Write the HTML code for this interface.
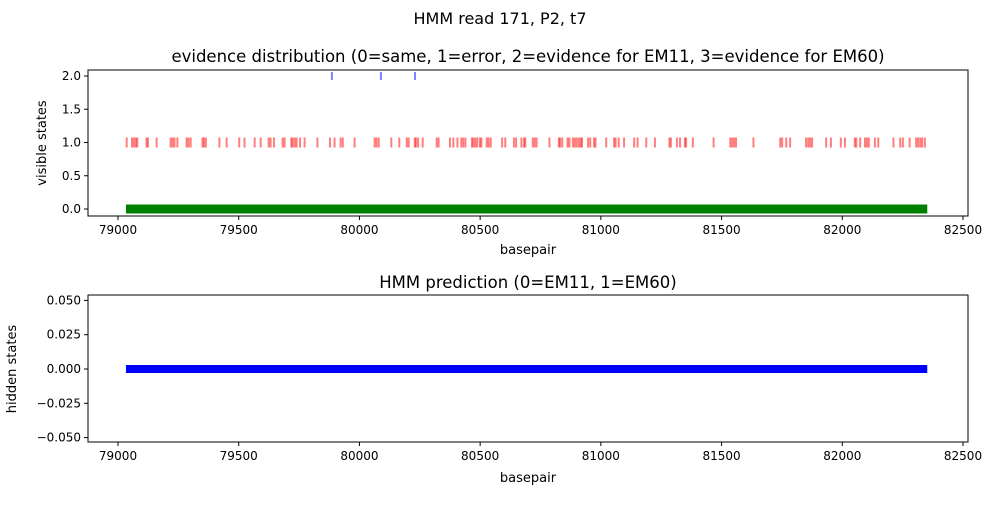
<!DOCTYPE html>
<html><head><meta charset="utf-8"><style>
body{margin:0;background:#fff;}
svg text{font-family:"DejaVu Sans","Liberation Sans",sans-serif;fill:#000;}
</style></head><body>
<svg id="c" width="1000" height="500" xmlns="http://www.w3.org/2000/svg">
<text x="500" y="24" font-size="16" text-anchor="middle">HMM read 171, P2, t7</text>
<text x="528" y="62" font-size="16.5" text-anchor="middle">evidence distribution (0=same, 1=error, 2=evidence for EM11, 3=evidence for EM60)</text>
<text x="528" y="288" font-size="16.5" text-anchor="middle">HMM prediction (0=EM11, 1=EM60)</text>
<text x="528" y="254" font-size="13" text-anchor="middle">basepair</text>
<text x="528" y="482" font-size="13" text-anchor="middle">basepair</text>
<text transform="translate(46,143) rotate(-90)" font-size="13" text-anchor="middle">visible states</text>
<text transform="translate(16,369) rotate(-90)" font-size="13" text-anchor="middle">hidden states</text>
<g id="g"></g>
</svg>
<script>
const xTicks=[79000,79500,80000,80500,81000,81500,82000,82500];
const topYTicks=[0.0,0.5,1.0,1.5,2.0];
const botYTicks=[-0.050,-0.025,0.000,0.025,0.050];
const errorPos=[79036,79058,79066,79074,79080,79118,79124,79160,79218,79226,79234,79246,79284,79292,79301,79350,79356,79364,79420,79450,79502,79524,79566,79591,79624,79632,79646,79682,79690,79718,79723,79732,79740,79754,79773,79826,79878,79897,79922,79931,79980,80063,80071,80080,80132,80165,80196,80204,80229,80234,80243,80262,80320,80328,80375,80389,80406,80422,80430,80439,80466,80472,80480,80488,80499,80505,80527,80535,80544,80591,80604,80640,80649,80671,80682,80687,80718,80726,80734,80787,80826,80831,80840,80862,80870,80884,80892,80900,80909,80917,80922,80947,80956,80972,80978,81022,81055,81061,81074,81096,81138,81152,81188,81224,81284,81290,81315,81328,81348,81353,81381,81467,81536,81544,81552,81560,81632,81743,81751,81768,81784,81850,81859,81867,81875,81933,81953,81994,82011,82052,82058,82074,82094,82102,82110,82135,82149,82212,82240,82251,82279,82306,82314,82323,82331,82342];
const em11Pos=[79886,80089,80230];
const readRange=[79033,82352];
const predState=[0];
const NS="http://www.w3.org/2000/svg";
const g=document.getElementById('g');
const X0=88,X1=968;
const xs=v=>118+(v-79000)*(845/3500);
const ysTop=v=>209-v*66.5;
const ysBot=v=>369-v*1372;
function mk(t,a,p){const e=document.createElementNS(NS,t);for(const k in a)e.setAttribute(k,a[k]);(p||g).appendChild(e);return e;}
function axes(y0,y1,yt,ys,fmt,nm){
  const f=mk('rect',{x:X0,y:y0,width:X1-X0,height:y1-y0,fill:'none',stroke:'#000','stroke-width':1});
  
  
  xTicks.forEach(v=>{const x=xs(v);
    const l=mk('line',{x1:x,x2:x,y1:y1,y2:y1+4,stroke:'#000'});
    
    
    const t=mk('text',{x:x,y:y1+18,'font-size':12,'text-anchor':'middle'});t.textContent=v;
    
    });
  yt.forEach(v=>{const y=ys(v);
    const l=mk('line',{x1:X0-4,x2:X0,y1:y,y2:y,stroke:'#000'});
    
    
    const t=mk('text',{x:X0-7,y:y+4,'font-size':12,'text-anchor':'end'});t.textContent=fmt(v);
    
    });
}
axes(70,216,topYTicks,ysTop,v=>v.toFixed(1),'top');
axes(295,442,botYTicks,ysBot,v=>v.toFixed(3).replace('-','−'),'bottom');
const gl=mk('line',{x1:xs(readRange[0]),x2:xs(readRange[1]),y1:ysTop(0),y2:ysTop(0),stroke:'#008000','stroke-width':9});


errorPos.forEach(v=>{const x=xs(v);
  const l=mk('line',{x1:x,x2:x,y1:ysTop(1)-5,y2:ysTop(1)+5,stroke:'rgba(255,0,0,0.5)','stroke-width':2});
  
  });
em11Pos.forEach(v=>{const x=xs(v);
  const l=mk('line',{x1:x,x2:x,y1:ysTop(2)-4,y2:ysTop(2)+4,stroke:'rgba(0,0,255,0.5)','stroke-width':2});
  
  });
const bl=mk('line',{x1:xs(readRange[0]),x2:xs(readRange[1]),y1:ysBot(predState[0]),y2:ysBot(predState[0]),stroke:'#0000ff','stroke-width':8});


</script>
</body></html>
